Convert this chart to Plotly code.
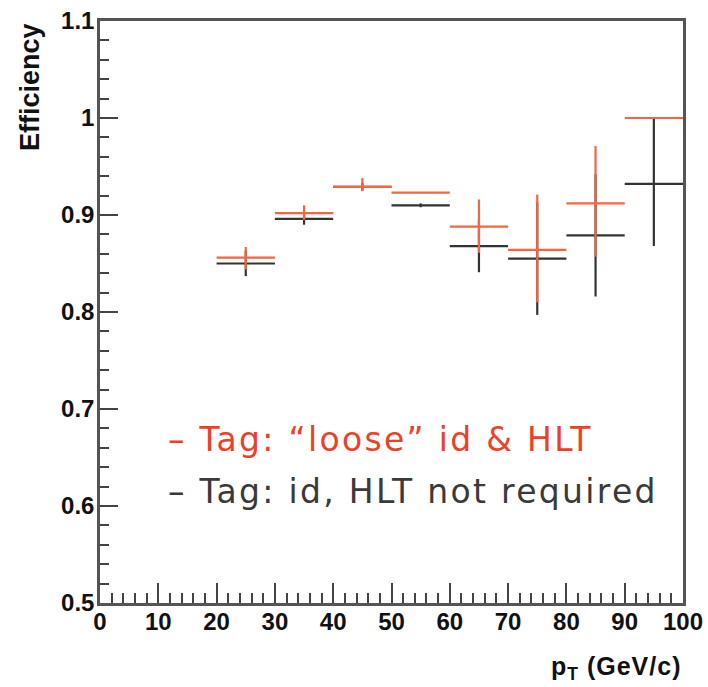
import plotly.graph_objects as go

# ---- data ----
bin_centers = [25, 35, 45, 55, 65, 75, 85, 95]
bin_half_width = [5, 5, 5, 5, 5, 5, 5, 5]

red_eff = [0.856, 0.902, 0.929, 0.923, 0.888, 0.864, 0.912, 1.000]
red_err_up = [0.011, 0.008, 0.009, 0.000, 0.028, 0.057, 0.059, 0.000]
red_err_dn = [0.012, 0.007, 0.004, 0.000, 0.027, 0.054, 0.055, 0.000]

black_eff = [0.850, 0.896, 0.929, 0.910, 0.868, 0.855, 0.879, 0.932]
black_err_up = [0.013, 0.006, 0.004, 0.002, 0.027, 0.058, 0.063, 0.067]
black_err_dn = [0.013, 0.006, 0.004, 0.002, 0.027, 0.058, 0.063, 0.064]

x_tick_vals = [0, 10, 20, 30, 40, 50, 60, 70, 80, 90, 100]
x_tick_text = ["0", "10", "20", "30", "40", "50", "60", "70", "80", "90", "100"]
y_tick_vals = [0.5, 0.6, 0.7, 0.8, 0.9, 1.0, 1.1]
y_tick_text = ["0.5", "0.6", "0.7", "0.8", "0.9", "1", "1.1"]

red_label = "\u2013 Tag: \u201cloose\u201d id & HLT"
black_label = "\u2013 Tag: id, HLT not required"

RED_LINE = "#f8643f"
RED_TEXT = "#ec4128"
BLACK_LINE = "#333333"
BLACK_TEXT = "#3a3a3a"

fig = go.Figure()


def add_series(y, up, dn, color):
    fig.add_trace(go.Scatter(
        x=bin_centers, y=y, mode="markers",
        marker=dict(size=0.1, color=color, opacity=0),
        error_x=dict(type="data", array=bin_half_width, symmetric=True,
                     color=color, thickness=2.2, width=0),
        error_y=dict(type="data", array=up, arrayminus=dn, symmetric=False,
                     color=color, thickness=2.2, width=0),
        showlegend=False, hoverinfo="skip",
    ))


add_series(black_eff, black_err_up, black_err_dn, BLACK_LINE)
add_series(red_eff, red_err_up, red_err_dn, RED_LINE)

legend_font = "DejaVu Sans, Liberation Sans, Arial, sans-serif"
spacing = "letter-spacing:2.3px"
fig.add_annotation(x=11.3, y=0.669, xref="x", yref="y",
                   text=f'<span style="{spacing}">{red_label}</span>',
                   showarrow=False, xanchor="left", yanchor="middle",
                   font=dict(family=legend_font, size=33, color=RED_TEXT))
fig.add_annotation(x=11.3, y=0.615, xref="x", yref="y",
                   text=f'<span style="{spacing}">{black_label}</span>',
                   showarrow=False, xanchor="left", yanchor="middle",
                   font=dict(family=legend_font, size=33, color=BLACK_TEXT))

axis_font = "Liberation Sans, Arial, Helvetica, sans-serif"
# axis titles (ROOT style: at the end of the axes)
fig.add_annotation(x=-0.12, y=1.0, xref="paper", yref="paper",
                   text="<b>Efficiency</b>", textangle=-90, showarrow=False,
                   xanchor="center", yanchor="top",
                   font=dict(family=axis_font, size=27, color="#111111"))
fig.add_annotation(x=1.0, y=-0.08, xref="paper", yref="paper",
                   text='<b><span style="letter-spacing:1px">p<sub>T</sub> (GeV/c)</span></b>',
                   showarrow=False, xanchor="right", yanchor="top",
                   font=dict(family=axis_font, size=25, color="#111111"))

fig.update_xaxes(
    range=[0, 100], tickmode="array", tickvals=x_tick_vals, ticktext=x_tick_text,
    ticks="inside", ticklen=20, tickwidth=2, tickcolor="#444444",
    minor=dict(dtick=2, tick0=0, ticks="inside", ticklen=10, tickwidth=2, tickcolor="#444444"),
    showline=True, linecolor="#555555", linewidth=2.5, mirror=True,
    showgrid=False, zeroline=False, automargin=False, ticklabelstandoff=-5,
    tickfont=dict(family=axis_font, size=24, color="#111111", weight="bold"),
)
fig.update_yaxes(
    range=[0.5, 1.1], tickmode="array", tickvals=y_tick_vals, ticktext=y_tick_text,
    ticks="inside", ticklen=18, tickwidth=2, tickcolor="#444444",
    minor=dict(dtick=0.02, tick0=0.5, ticks="inside", ticklen=9, tickwidth=2, tickcolor="#444444"),
    showline=True, linecolor="#555555", linewidth=2.5, mirror=True,
    showgrid=False, zeroline=False, automargin=False, ticklabelstandoff=-2,
    tickfont=dict(family=axis_font, size=24, color="#111111", weight="bold"),
)

fig.update_layout(
    width=708, height=687,
    margin=dict(l=100, r=25, t=21, b=84),
    paper_bgcolor="white", plot_bgcolor="white",
    showlegend=False,
)

fig.write_html("out.html")
